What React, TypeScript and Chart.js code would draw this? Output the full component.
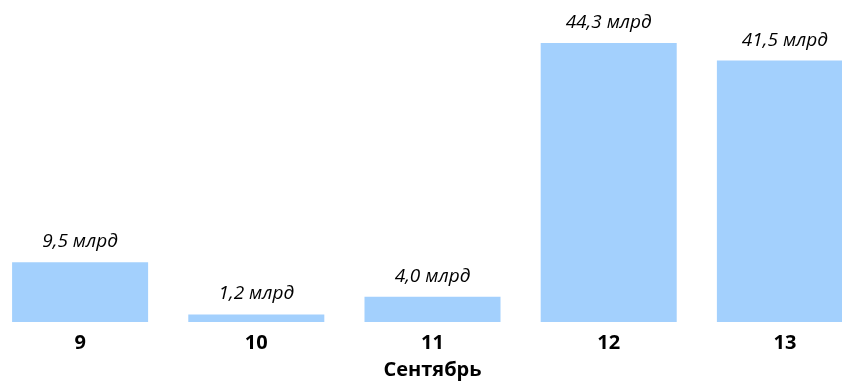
import React, { useEffect, useRef } from "react";
import { Chart, registerables } from "chart.js";

Chart.register(...registerables);

// Days of September and the amounts (billions) for each day
const days: string[] = ["9", "10", "11", "12", "13"];
const amounts: number[] = [9.5, 1.2, 4.0, 44.3, 41.5];
const valueLabels: string[] = ["9,5 млрд", "1,2 млрд", "4,0 млрд", "44,3 млрд", "41,5 млрд"];
const axisTitle = "Сентябрь";

const FONT = "'Open Sans', 'Noto Sans', sans-serif";

// Draws the italic amount caption above every bar
const barCaptions = {
  id: "barCaptions",
  afterDatasetsDraw(chart: any) {
    const { ctx } = chart;
    const meta = chart.getDatasetMeta(0);
    ctx.save();
    ctx.font = `italic 19px ${FONT}`;
    ctx.fillStyle = "#000000";
    ctx.textAlign = "center";
    ctx.textBaseline = "alphabetic";
    meta.data.forEach((bar: any, i: number) => {
      ctx.fillText(valueLabels[i], bar.x, bar.y - 15);
    });
    ctx.restore();
  },
};

export default function App() {
  const canvasRef = useRef<HTMLCanvasElement | null>(null);

  useEffect(() => {
    if (!canvasRef.current) return;
    const chart = new Chart(canvasRef.current, {
      type: "bar",
      data: {
        labels: days,
        datasets: [
          {
            data: amounts,
            backgroundColor: "#a3d0fd",
            borderWidth: 0,
            categoryPercentage: 1,
            barPercentage: 0.772,
          },
        ],
      },
      options: {
        animation: false,
        responsive: true,
        maintainAspectRatio: false,
        layout: { padding: { top: 7, bottom: 0, left: 0, right: 0 } },
        plugins: {
          legend: { display: false },
          tooltip: { enabled: false },
        },
        scales: {
          x: {
            grid: { display: false, drawTicks: false },
            border: { display: false },
            ticks: {
              color: "#000000",
              padding: 9,
              font: { family: FONT, size: 20, weight: "bold", lineHeight: 1.2 },
            },
            title: {
              display: true,
              text: axisTitle,
              color: "#000000",
              padding: { top: -6, bottom: 4 },
              font: { family: FONT, size: 20, weight: "bold", lineHeight: 1.2 },
            },
          },
          y: {
            display: false,
            min: 0,
            max: 50,
          },
        },
      },
      plugins: [barCaptions],
    });
    return () => chart.destroy();
  }, []);

  return (
    <div
      style={{
        position: "fixed",
        left: 0,
        top: 0,
        width: 842,
        height: 386,
        overflow: "hidden",
        background: "#ffffff",
      }}
    >
      <div style={{ position: "absolute", left: -8, top: 0, width: 881, height: 386 }}>
        <canvas ref={canvasRef} />
      </div>
    </div>
  );
}
